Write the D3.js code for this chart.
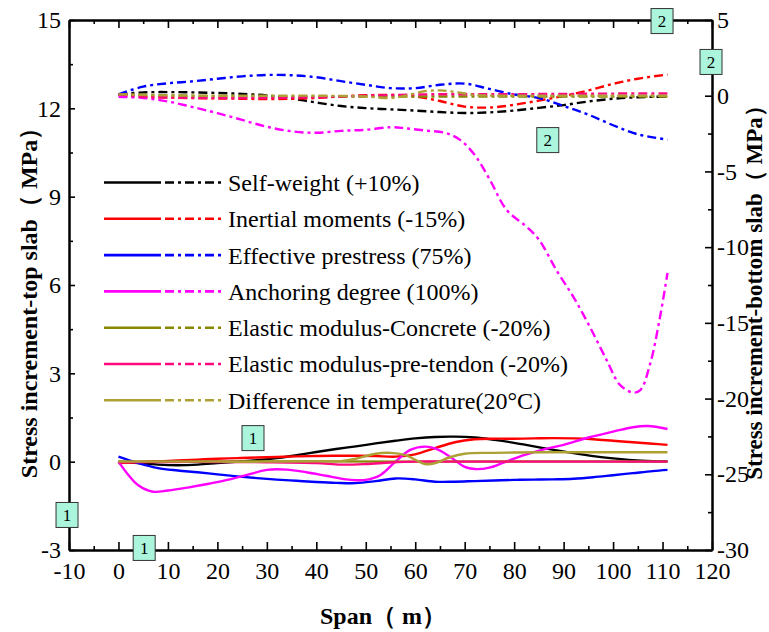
<!DOCTYPE html>
<html>
<head>
<meta charset="utf-8">
<script src="https://cdn.jsdelivr.net/npm/d3@7"></script>
<style>
  html, body { margin: 0; padding: 0; background: #fff; }
  svg { display: block; }
  text { font-family: "Liberation Serif", "Times New Roman", serif; fill: #000; }
  .title { font-weight: bold; }
</style>
</head>
<body>
<svg id="chart" width="769" height="632"></svg>
<script>
// ---- Series names and colours ----
const seriesNames = [
  "Self-weight (+10%)",
  "Inertial moments (-15%)",
  "Effective prestress (75%)",
  "Anchoring degree (100%)",
  "Elastic modulus-Concrete (-20%)",
  "Elastic modulus-pre-tendon (-20%)",
  "Difference in temperature(20\u00B0C)"
];
const seriesColors = ["#000000", "#ff0000", "#0000ff", "#ff00ff", "#878700", "#ff0a7e", "#ada034"];

// ---- Top slab stress increment (MPa), left axis, solid lines ----
const topSelfX   = [0,4,8,12,16,20,24,28,32,36,40,44,48,52,56,60,64,68,72,76,80,84,88,92,96,100,104,108,111];
const topSelfY   = [0,-0.05,-0.1,-0.12,-0.1,-0.05,0,0.05,0.12,0.22,0.33,0.43,0.52,0.62,0.71,0.79,0.84,0.85,0.82,0.74,0.64,0.52,0.4,0.29,0.19,0.11,0.05,0.02,0.01];

const topInertX  = [0,4,8,12,16,20,24,28,32,36,40,44,48,52,56,60,64,68,72,76,80,84,88,92,96,100,104,108,111];
const topInertY  = [-0.05,-0.02,0.01,0.04,0.07,0.1,0.12,0.14,0.16,0.18,0.19,0.2,0.2,0.19,0.17,0.25,0.46,0.66,0.76,0.78,0.78,0.79,0.8,0.79,0.76,0.71,0.66,0.61,0.57];

const topPrestX  = [0,4,8,12,16,20,24,28,32,36,40,44,48,52,56,60,64,68,72,76,80,84,88,92,96,100,104,108,111];
const topPrestY  = [0.17,-0.05,-0.22,-0.3,-0.36,-0.43,-0.5,-0.56,-0.61,-0.65,-0.69,-0.72,-0.73,-0.66,-0.57,-0.6,-0.68,-0.68,-0.66,-0.64,-0.62,-0.61,-0.6,-0.58,-0.53,-0.46,-0.39,-0.32,-0.28];

const topAnchX   = [0,2,4,7,10,14,18,22,26,30,34,38,42,46,48,50,53,56,59,62,64,66,68,70,72,75,78,82,86,90,95,100,104,107,111];
const topAnchY   = [0,-0.45,-0.8,-1.02,-0.98,-0.88,-0.76,-0.62,-0.45,-0.28,-0.27,-0.36,-0.48,-0.6,-0.63,-0.62,-0.45,0,0.4,0.51,0.45,0.28,0.05,-0.18,-0.25,-0.2,-0.02,0.22,0.42,0.57,0.82,1.02,1.17,1.21,1.11];

const topConcX   = [0,20,40,60,80,100,111];
const topConcY   = [0,0.01,0.01,0.0,0.01,0.01,0.0];

const topTendX   = [0,10,20,30,40,45,50,55,60,70,80,90,100,111];
const topTendY   = [-0.02,-0.01,-0.01,-0.02,-0.05,-0.1,-0.08,-0.03,0,0,0,0,0,0];

const topTempX   = [0,10,20,30,40,45,48,52,55,58,62,64,67,70,75,80,90,100,111];
const topTempY   = [0,0,0,0,0.01,0.02,0.1,0.27,0.3,0.22,-0.08,-0.05,0.15,0.27,0.3,0.31,0.32,0.32,0.32];

// ---- Bottom slab stress increment (MPa), right axis, dash-dot lines ----
const botSelfX   = [0,5,10,15,20,25,30,35,40,45,50,55,60,65,70,75,80,85,90,95,100,105,111];
const botSelfY   = [0.09,0.22,0.24,0.22,0.18,0.12,0.02,-0.18,-0.45,-0.68,-0.82,-0.9,-0.98,-1.08,-1.14,-1.1,-0.98,-0.8,-0.62,-0.38,-0.2,-0.1,-0.05];

const botInertX  = [0,5,10,15,20,25,30,35,40,45,50,55,60,65,70,75,80,85,90,95,100,105,111];
const botInertY  = [0.09,-0.05,-0.12,-0.16,-0.18,-0.2,-0.22,-0.2,-0.15,-0.05,0.03,0.05,-0.05,-0.35,-0.72,-0.78,-0.6,-0.32,-0.02,0.35,0.78,1.12,1.4];

const botPrestX  = [0,5,10,15,20,25,30,35,40,45,50,55,60,65,70,75,80,85,90,95,100,105,111];
const botPrestY  = [0.09,0.6,0.82,0.95,1.12,1.28,1.37,1.35,1.22,0.96,0.72,0.5,0.5,0.72,0.8,0.45,0.08,-0.15,-0.68,-1.25,-1.95,-2.55,-2.9];

const botAnchX   = [0,5,10,15,20,25,30,35,40,45,50,55,58,62,66,69,72,75,78.5,82.5,85,88.6,92,95.3,98.7,101.4,104,105.5,107.5,109.5,111];
const botAnchY   = [-0.07,-0.15,-0.38,-0.75,-1.15,-1.6,-2.05,-2.35,-2.45,-2.32,-2.25,-2.08,-2.15,-2.3,-2.45,-2.9,-3.9,-5.5,-7.55,-8.65,-9.5,-11.55,-13.3,-15.26,-17.46,-19.1,-19.6,-19.45,-17.7,-14.6,-11.7];

const botConcX   = [0,20,40,60,80,100,111];
const botConcY   = [0.09,-0.03,-0.05,-0.05,-0.05,-0.05,-0.05];

const botTendX   = [0,5,10,20,30,40,50,60,70,80,90,100,111];
const botTendY   = [0.09,-0.08,-0.12,-0.15,-0.15,-0.1,0.0,0.08,0.1,0.1,0.12,0.14,0.15];

const botTempX   = [0,10,20,30,40,50,55,58,62,65,68,72,76,85,100,111];
const botTempY   = [0.09,0.02,0,0,0,-0.05,-0.15,0,0.3,0.35,0.25,0.05,0,0,0,0];

// ---- Axis ticks ----
const spanTicks   = [-10,0,10,20,30,40,50,60,70,80,90,100,110,120];
const topTicks    = [-3,0,3,6,9,12,15];
const bottomTicks = [-30,-25,-20,-15,-10,-5,0,5];

// ---- Numbered markers (span, value, axis side) ----
const markerLabels = ["1","1","1","2","2","2"];
const markerSpan   = [27.2,-10.4,5.2,109.9,119.8,86.8];
const markerValue  = [0.8,-1.81,-2.93,4.93,2.23,-2.93];
const markerSide   = ["top","top","top","bottom","bottom","bottom"];

// ---- Layout ----
const svg = d3.select("#chart");
const plot = { left: 69, right: 712, top: 20, bottom: 550 };
const serif = "'Liberation Serif', 'Times New Roman', serif";

const x  = d3.scaleLinear().domain([-10, 120]).range([plot.left, plot.right]);
const yL = d3.scaleLinear().domain([-3, 15]).range([plot.bottom, plot.top]);
const yR = d3.scaleLinear().domain([-30, 5]).range([plot.bottom, plot.top]);

svg.append("rect").attr("width", 769).attr("height", 632).attr("fill", "#fff");

// ---- Curves ----
const topSeries = [
  [topSelfX, topSelfY], [topInertX, topInertY], [topPrestX, topPrestY], [topAnchX, topAnchY],
  [topConcX, topConcY], [topTendX, topTendY], [topTempX, topTempY]
];
const botSeries = [
  [botSelfX, botSelfY], [botInertX, botInertY], [botPrestX, botPrestY], [botAnchX, botAnchY],
  [botConcX, botConcY], [botTendX, botTendY], [botTempX, botTempY]
];

const dashDot = "9,4,3,4";
const curves = svg.append("g");

function drawCurve(xs, ys, yScale, color, dash) {
  const pts = xs.map((v, i) => [v, ys[i]]);
  const line = d3.line()
    .x(d => x(d[0]))
    .y(d => yScale(d[1]))
    .curve(d3.curveCatmullRom.alpha(0.5));
  curves.append("path")
    .datum(pts)
    .attr("d", line)
    .attr("fill", "none")
    .attr("stroke", color)
    .attr("stroke-width", 2.4)
    .attr("stroke-dasharray", dash || null)
    .attr("stroke-linejoin", "round");
}

botSeries.forEach((s, i) => drawCurve(s[0], s[1], yR, seriesColors[i], dashDot));
topSeries.forEach((s, i) => drawCurve(s[0], s[1], yL, seriesColors[i], null));

// ---- Axes ----
const plain = d => String(d);   // hyphen-minus, as printed on the axes

function styleAxis(g) {
  g.attr("font-family", serif).attr("font-size", 24);
  g.select(".domain").attr("stroke", "#000").attr("stroke-width", 2);
  g.selectAll(".tick line").attr("stroke", "#000").attr("stroke-width", 1.6);
  g.selectAll(".tick text")
    .style("font-family", serif)
    .style("font-size", "24px")
    .attr("fill", "#000");
}

const minorSpan = d3.range(-5, 120, 10);
const minorTop = d3.range(-1.5, 15, 3);
const minorBot = d3.range(-27.5, 5, 5);

// bottom
svg.append("g").attr("transform", `translate(0,${plot.bottom})`)
  .call(d3.axisBottom(x).tickValues(minorSpan).tickSize(-4).tickSizeOuter(0).tickFormat(""))
  .call(styleAxis);
svg.append("g").attr("transform", `translate(0,${plot.bottom})`)
  .call(d3.axisBottom(x).tickValues(spanTicks).tickSize(-8).tickSizeOuter(0).tickPadding(12).tickFormat(plain))
  .call(styleAxis);
// top
svg.append("g").attr("transform", `translate(0,${plot.top})`)
  .call(d3.axisTop(x).tickValues(minorSpan).tickSize(-4).tickSizeOuter(0).tickFormat(""))
  .call(styleAxis);
svg.append("g").attr("transform", `translate(0,${plot.top})`)
  .call(d3.axisTop(x).tickValues(spanTicks).tickSize(-8).tickSizeOuter(0).tickFormat(""))
  .call(styleAxis);
// left
svg.append("g").attr("transform", `translate(${plot.left},0)`)
  .call(d3.axisLeft(yL).tickValues(minorTop).tickSize(-4).tickSizeOuter(0).tickFormat(""))
  .call(styleAxis);
svg.append("g").attr("transform", `translate(${plot.left},0)`)
  .call(d3.axisLeft(yL).tickValues(topTicks).tickSize(-6).tickSizeOuter(0).tickPadding(8).tickFormat(plain))
  .call(styleAxis);
// right
svg.append("g").attr("transform", `translate(${plot.right},0)`)
  .call(d3.axisRight(yR).tickValues(minorBot).tickSize(-4).tickSizeOuter(0).tickFormat(""))
  .call(styleAxis);
svg.append("g").attr("transform", `translate(${plot.right},0)`)
  .call(d3.axisRight(yR).tickValues(bottomTicks).tickSize(-7).tickSizeOuter(0).tickPadding(5).tickFormat(plain))
  .call(styleAxis);

// ---- Axis titles ----
svg.append("text").attr("class", "title")
  .attr("x", 383).attr("y", 624)
  .attr("text-anchor", "middle")
  .style("font-size", "24px")
  .text("Span\uFF08 m\uFF09");

svg.append("text").attr("class", "title")
  .attr("transform", `translate(37,297) rotate(-90)`)
  .attr("text-anchor", "middle")
  .style("font-size", "24px")
  .text("Stress increment-top slab\uFF08 MPa\uFF09");

svg.append("text").attr("class", "title")
  .attr("transform", `translate(762,287) rotate(-90)`)
  .attr("text-anchor", "middle")
  .style("font-size", "23px")
  .text("Stress increment-bottom slab\uFF08 MPa\uFF09");

// ---- Legend ----
const legend = svg.append("g");
seriesNames.forEach((name, i) => {
  const yy = 182.5 + i * 36.3;
  legend.append("line").attr("x1", 104).attr("x2", 161).attr("y1", yy).attr("y2", yy)
    .attr("stroke", seriesColors[i]).attr("stroke-width", 2.6);
  legend.append("line").attr("x1", 165).attr("x2", 221).attr("y1", yy).attr("y2", yy)
    .attr("stroke", seriesColors[i]).attr("stroke-width", 2.6).attr("stroke-dasharray", dashDot);
  legend.append("text").attr("x", 228).attr("y", yy).attr("dy", "0.35em")
    .style("font-size", "24px").text(name);
});

// ---- Numbered markers ----
const markers = svg.append("g");
markerLabels.forEach((lab, i) => {
  const cx = x(markerSpan[i]);
  const cy = markerSide[i] === "top" ? yL(markerValue[i]) : yR(markerValue[i]);
  markers.append("rect")
    .attr("x", cx - 11).attr("y", cy - 12.5).attr("width", 22).attr("height", 25)
    .attr("fill", "#aaf5dc").attr("stroke", "#333").attr("stroke-width", 1);
  markers.append("text")
    .attr("x", cx).attr("y", cy).attr("dy", "0.35em")
    .attr("text-anchor", "middle")
    .style("font-size", "17px")
    .text(lab);
});
</script>
</body>
</html>
